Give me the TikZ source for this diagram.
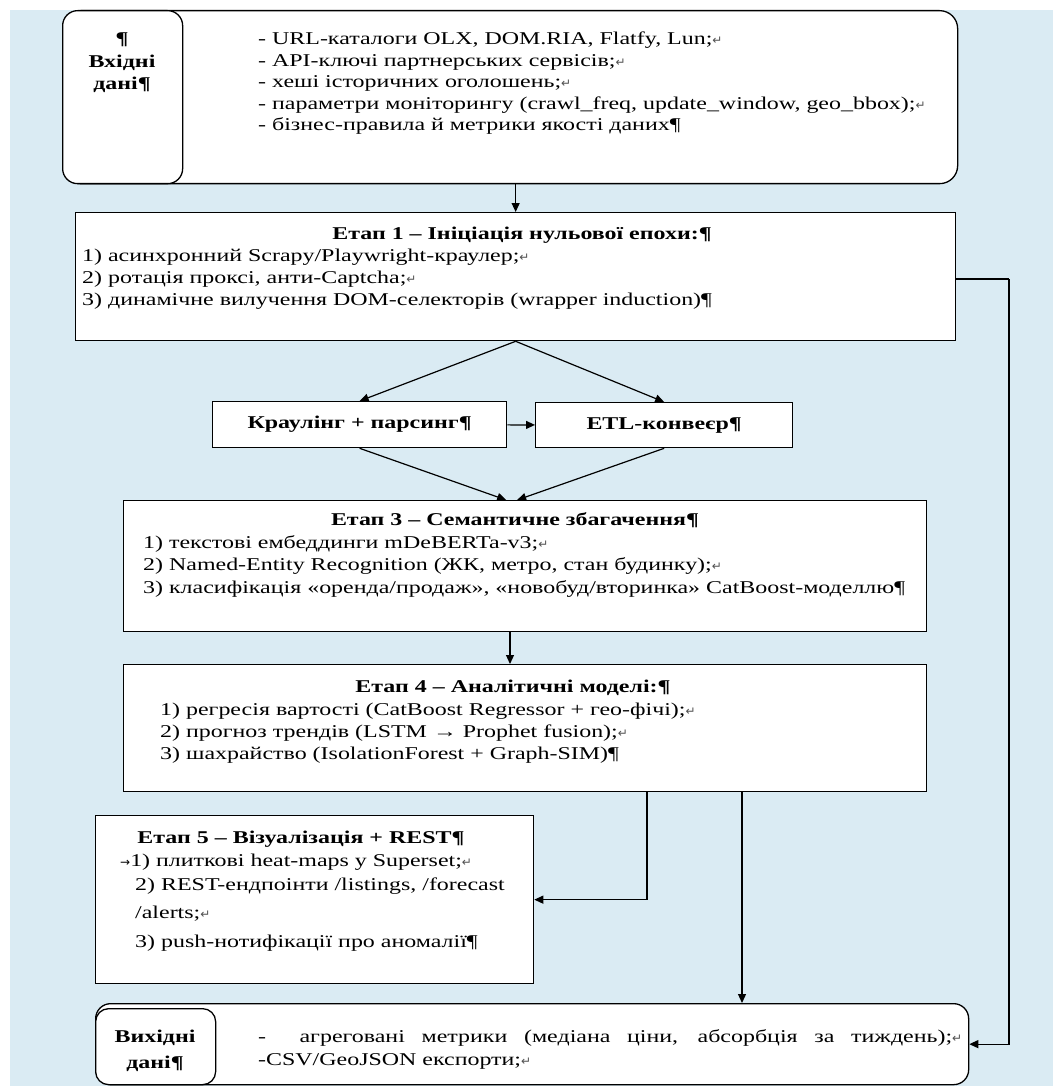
\documentclass[tikz,border=0pt]{standalone}
\usepackage{fontspec}
\setmainfont[FakeStretch=1.33]{Liberation Serif}
\newfontfamily\marksfont{DejaVu Sans}
\usetikzlibrary{arrows.meta,calc}
\definecolor{pagebg}{RGB}{218,235,243}
\definecolor{markgray}{RGB}{80,80,80}
\newcommand{\brk}{{\marksfont\fontsize{12}{12}\selectfont\color{markgray}↵}}
\newcommand{\tabmark}{{\marksfont\fontsize{12}{12}\selectfont →}}

\begin{document}
\begin{tikzpicture}[x=1pt,y=-1pt,
	box/.style={draw, line width=1.3pt, fill=white, inner sep=0pt, anchor=north west},
	rbox/.style={box, rounded corners=18pt},
	txt/.style={inner sep=0pt, anchor=base west, font=\fontsize{18}{22}\selectfont},
	ttl/.style={inner sep=0pt, anchor=base, font=\bfseries\fontsize{18}{22}\selectfont},
	link/.style={line width=1.2pt},
	arr/.style={line width=1.2pt, -{Triangle[length=9pt,width=8pt]}}]
	%%%%% START %%%%%
	
	\useasboundingbox (0,0) rectangle (1053,1086);
	\fill[pagebg] (10,10) rectangle (1053,1086);
	
	% input data
	\node[rbox, minimum width=895pt, minimum height=173pt] (inbox) at (62,10) {};
	\node[rbox, rounded corners=15pt, minimum width=120pt, minimum height=173pt] (inlabel) at (62,10) {};
	\node[ttl] (inl1) at (122,45) {¶};
	\node[ttl] (inl2) at (122,68) {Вхідні};
	\node[ttl] (inl3) at (122,90) {дані¶};
	
	\node[txt] (in1) at (258,45) {- URL-каталоги OLX, DOM.RIA, Flatfy, Lun;\brk};
	\node[txt] (in2) at (258,67) {- API-ключі партнерських сервісів;\brk};
	\node[txt] (in3) at (258,88) {- хеші історичних оголошень;\brk};
	\node[txt] (in4) at (258,110) {- параметри моніторингу (crawl\_freq, update\_window, geo\_bbox);\brk};
	\node[txt] (in5) at (258,131) {- бізнес-правила й метрики якості даних¶};
	
	% stage 1
	\node[box, minimum width=880pt, minimum height=128pt] (stage1) at (75,212) {};
	\node[ttl] (s1t) at (522,239) {Етап 1 – Ініціація нульової епохи:¶};
	\node[txt] (s1a) at (82,261) {1) асинхронний Scrapy/Playwright-краулер;\brk};
	\node[txt] (s1b) at (82,283) {2) ротація проксі, анти-Captcha;\brk};
	\node[txt] (s1c) at (82,305) {3) динамічне вилучення DOM-селекторів (wrapper induction)¶};
	
	% crawling and ETL
	\node[box, minimum width=294pt, minimum height=46pt] (crawl) at (212,401) {};
	\node[ttl] (crawlt) at (crawl.center) [anchor=center] {Краулінг + парсинг¶};
	\node[box, minimum width=257pt, minimum height=45pt] (etl) at (535,402) {};
	\node[ttl] (etlt) at (etl.center) [anchor=center] {ETL-конвеєр¶};
	
	% stage 3
	\node[box, minimum width=803pt, minimum height=131pt] (stage3) at (123,500) {};
	\node[ttl] (s3t) at (515,525) {Етап 3 – Семантичне збагачення¶};
	\node[txt] (s3a) at (143,548) {1) текстові ембеддинги mDeBERTa-v3;\brk};
	\node[txt] (s3b) at (143,570) {2) Named-Entity Recognition (ЖК, метро, стан будинку);\brk};
	\node[txt] (s3c) at (143,593) {3) класифікація «оренда/продаж», «новобуд/вторинка» CatBoost-моделлю¶};
	
	% stage 4
	\node[box, minimum width=803pt, minimum height=127pt] (stage4) at (123,664) {};
	\node[ttl] (s4t) at (513,692) {Етап 4 – Аналітичні моделі:¶};
	\node[txt] (s4a) at (160,715) {1) регресія вартості (CatBoost Regressor + гео-фічі);\brk};
	\node[txt] (s4b) at (160,737) {2) прогноз трендів (LSTM → Prophet fusion);\brk};
	\node[txt] (s4c) at (160,759) {3) шахрайство (IsolationForest + Graph-SIM)¶};
	
	% stage 5
	\node[box, minimum width=438pt, minimum height=168pt] (stage5) at (95,815) {};
	\node[ttl] (s5t) at (301,843) {Етап 5 – Візуалізація + REST¶};
	\node[txt] (s5a) at (120,866) {\tabmark1) плиткові heat-maps у Superset;\brk};
	\node[txt] (s5b) at (135,890) {2) REST-ендпоінти /listings, /forecast};
	\node[txt] (s5c) at (135,918) {/alerts;\brk};
	\node[txt] (s5d) at (135,947) {3) push-нотифікації про аномалії¶};
	
	% output data
	\node[rbox, rounded corners=15pt, minimum width=873pt, minimum height=81pt] (outbox) at (95,1003) {};
	\node[rbox, rounded corners=13pt, minimum width=120pt, minimum height=76pt] (outlabel) at (95,1008) {};
	\node[ttl] (outl1) at (155,1042) {Вихідні};
	\node[ttl] (outl2) at (155,1068) {дані¶};
	\node[txt] (out1) at (258,1042) {\makebox[704pt][s]{- \ агреговані метрики (медіана ціни, абсорбція за~тиждень);\brk}};
	\node[txt] (out2) at (258,1065) {-CSV/GeoJSON експорти;\brk};
	
	% connectors
	\coordinate (side) at (1009,279);
	\coordinate (mid) at (510,0);
	\coordinate (tap5) at (647,0);
	\coordinate (tapout) at (742,0);
	
	\draw[arr] (inbox.south -| stage1.north) -- (stage1.north);
	\draw[link] (stage1.east |- side) -- (side);
	\draw[arr] (side) |- (outbox.east);
	
	\draw[arr] (stage1.south) -- (crawl.north);
	\draw[arr] (stage1.south) -- (etl.north);
	\draw[arr] (crawl) -- (etl);
	\draw[arr] (crawl.south) -- ($(stage3.north)+(-19,0)$);
	\draw[arr] (etl.south) -- ($(stage3.north)+(-8,0)$);
	
	\draw[arr] (stage3.south -| mid) -- (stage4.north -| mid);
	\draw[arr] (stage4.south -| tap5) |- (stage5.east);
	\draw[arr] (stage4.south -| tapout) -- (outbox.north -| tapout);
	
	%%%%% END %%%%%
\end{tikzpicture}
\end{document}
